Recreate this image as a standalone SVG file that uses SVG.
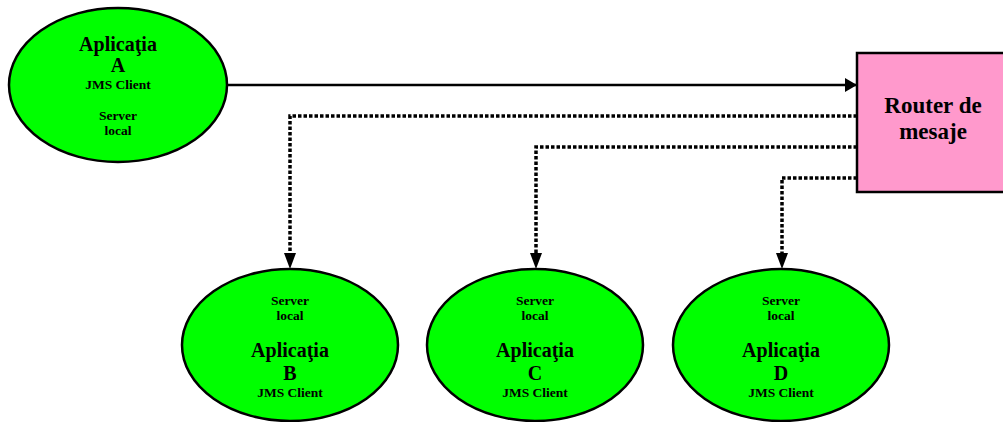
<svg xmlns="http://www.w3.org/2000/svg" width="1003" height="422" viewBox="0 0 1003 422">
  <style>
    .app { fill: #00ff00; stroke: #000; stroke-width: 2.5; }
    .router { fill: #ff99cc; stroke: #000; stroke-width: 2.5; }
    text { font-family: "Liberation Serif", "Times New Roman", serif; font-weight: bold; fill: #000; text-anchor: middle; }
    .big { font-size: 20px; }
    .small { font-size: 13.5px; }
    .rt { font-size: 23px; }
    .solid { fill: none; stroke: #000; stroke-width: 2.5; }
    .dotted { fill: none; stroke: #000; stroke-width: 3.5; stroke-dasharray: 3.5 2; }
  </style>
  <defs>
    <marker id="arrow" viewBox="0 0 12 14" refX="12" refY="7" markerWidth="12" markerHeight="14" markerUnits="userSpaceOnUse" orient="auto">
      <path d="M0,0 L12,7 L0,14 Z" fill="#000"/>
    </marker>
  </defs>

  <rect width="1003" height="422" fill="#fff"/>

  <g id="connectors">
    <line class="solid" x1="228" y1="85" x2="857" y2="85" marker-end="url(#arrow)"/>
    <polyline class="dotted" points="857,116 290,116 290,254"/>
    <polyline class="dotted" points="857,147 536,147 536,254"/>
    <polyline class="dotted" points="857,178 782,178 782,254"/>
    <path d="M284,253 L296,253 L290,269 Z" fill="#000"/>
    <path d="M530,253 L542,253 L536,269 Z" fill="#000"/>
    <path d="M776,253 L788,253 L782,269 Z" fill="#000"/>
  </g>

  <g id="app-a">
    <ellipse class="app" cx="118" cy="85" rx="109" ry="77"/>
    <text class="big" x="118" y="51">Aplicaţia</text>
    <text class="big" x="118" y="72">A</text>
    <text class="small" x="118" y="89">JMS Client</text>
    <text class="small" x="118" y="120">Server</text>
    <text class="small" x="118" y="135">local</text>
  </g>

  <g id="router">
    <rect class="router" x="857" y="53" width="148" height="139"/>
    <text class="rt" x="933" y="113">Router de</text>
    <text class="rt" x="933" y="139">mesaje</text>
  </g>

  <g id="app-b">
    <ellipse class="app" cx="290" cy="345" rx="108" ry="76"/>
    <text class="small" x="290" y="305">Server</text>
    <text class="small" x="290" y="320">local</text>
    <text class="big" x="290" y="357">Aplicaţia</text>
    <text class="big" x="290" y="380">B</text>
    <text class="small" x="290" y="397">JMS Client</text>
  </g>

  <g id="app-c">
    <ellipse class="app" cx="535" cy="345" rx="108" ry="76"/>
    <text class="small" x="535" y="305">Server</text>
    <text class="small" x="535" y="320">local</text>
    <text class="big" x="535" y="357">Aplicaţia</text>
    <text class="big" x="535" y="380">C</text>
    <text class="small" x="535" y="397">JMS Client</text>
  </g>

  <g id="app-d">
    <ellipse class="app" cx="781" cy="345" rx="108" ry="76"/>
    <text class="small" x="781" y="305">Server</text>
    <text class="small" x="781" y="320">local</text>
    <text class="big" x="781" y="357">Aplicaţia</text>
    <text class="big" x="781" y="380">D</text>
    <text class="small" x="781" y="397">JMS Client</text>
  </g>
</svg>
